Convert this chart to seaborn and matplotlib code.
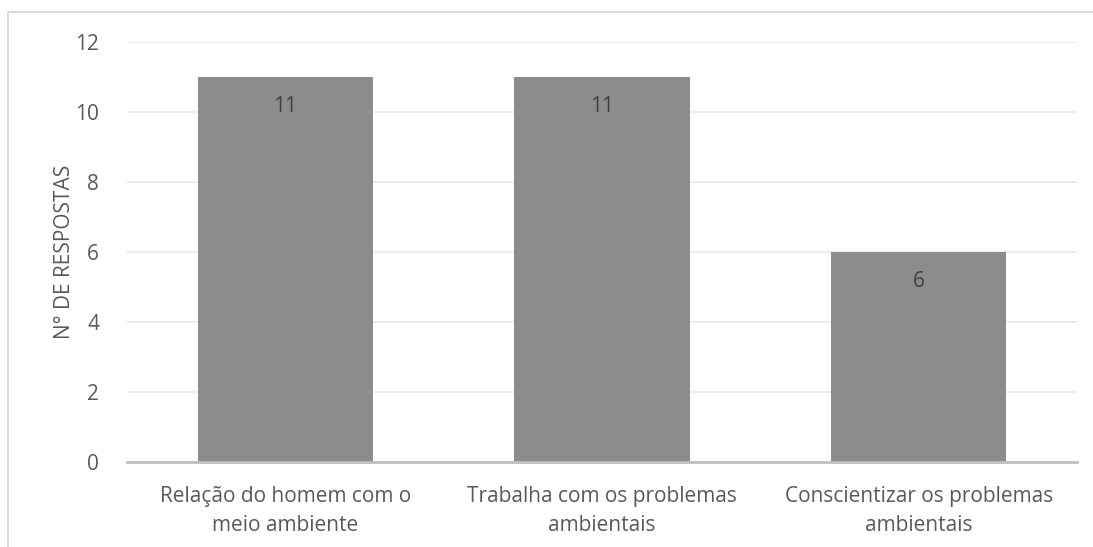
import matplotlib
matplotlib.use("Agg")
import matplotlib.pyplot as plt
import seaborn as sns
import pandas as pd
from matplotlib.patches import Rectangle

categories = ["Relação do homem com o\nmeio ambiente",
              "Trabalha com os problemas\nambientais",
              "Conscientizar os problemas\nambientais"]
values = [11, 11, 6]
yticks = [0, 2, 4, 6, 8, 10, 12]
ylabel = "N° DE RESPOSTAS"

sns.set_theme(style="white")
plt.rcParams['font.family'] = ['Open Sans', 'DejaVu Sans']
txt = "#595959"
fs = 15

fig = plt.figure(figsize=(10.93, 5.47), dpi=100)
ax = fig.add_axes([127/1093, 1-462/547, 950/1093, 420/547])

df = pd.DataFrame({"cat": categories, "val": values})
sns.barplot(data=df, x="cat", y="val", color="#8C8C8C", saturation=1,
            width=0.553, ax=ax, edgecolor="none", zorder=3)

ax.set_ylim(0, 12)
ax.set_yticks(yticks)
ax.set_yticklabels([str(t) for t in yticks], fontsize=fs, color=txt)
ax.tick_params(axis='y', length=0, pad=20)
ax.tick_params(axis='x', length=0, pad=17, labelsize=fs, labelcolor=txt)
for lab in ax.get_xticklabels():
    lab.set_linespacing(1.55)
ax.yaxis.grid(True, color="#EBEBEB", linewidth=1.3, zorder=0)
ax.set_axisbelow(True)
for s in ["top", "right", "left"]:
    ax.spines[s].set_visible(False)
ax.spines["bottom"].set_color("#BFBFBF")
ax.spines["bottom"].set_linewidth(2)
ax.spines["bottom"].set_zorder(4)
ax.set_xlabel("")
ax.set_ylabel(ylabel, fontsize=fs, color=txt, labelpad=0)

for i, v in enumerate(values):
    ax.annotate(str(v), (i, v), xytext=(0, -21), textcoords="offset points",
                ha="center", va="center", fontsize=fs, color="#404040", zorder=5)

# outer chart border (top and left)
fig.add_artist(Rectangle((8/1093, -0.1), 1.2, (1-12/547)+0.1,
                         transform=fig.transFigure, fill=False,
                         edgecolor="#D9D9D9", linewidth=1.3))

fig.savefig("out.png", dpi=100)
